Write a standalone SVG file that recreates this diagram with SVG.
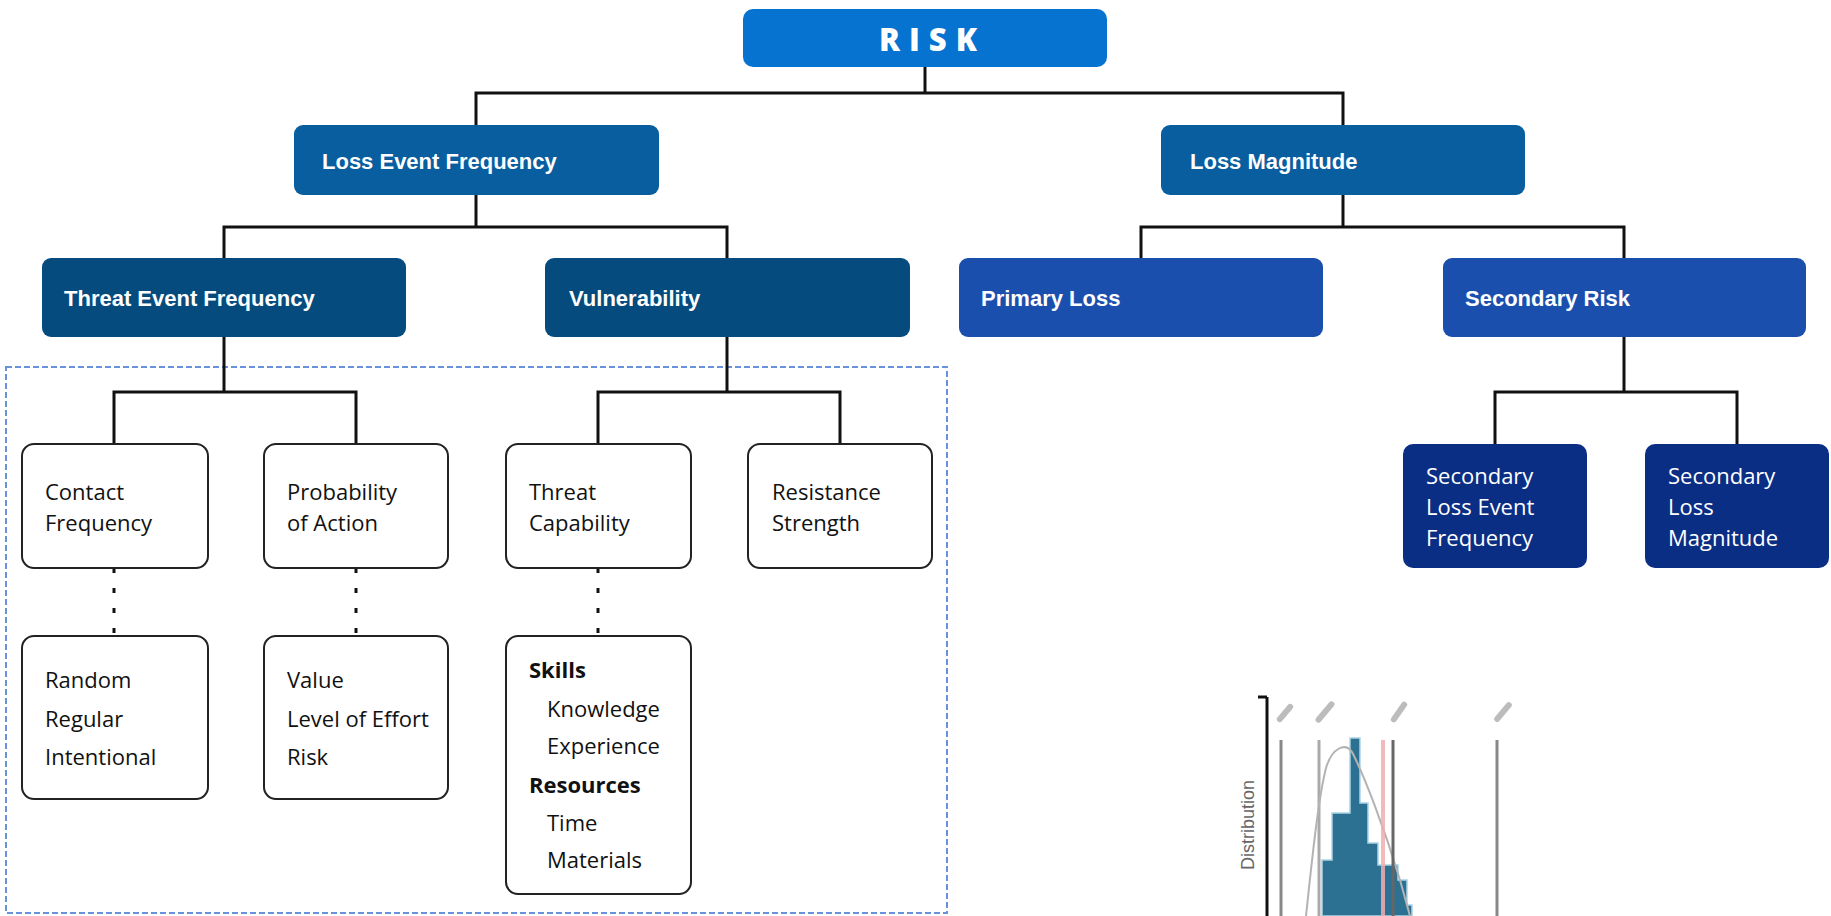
<svg xmlns="http://www.w3.org/2000/svg" width="1831" height="916" viewBox="0 0 1831 916">
<style>
  .conn { fill: none; stroke: #111; stroke-width: 3; }
  .dots { fill: none; stroke: #111; stroke-width: 3; stroke-dasharray: 5 15; }
  .title { font-family: "Liberation Sans", Arial, sans-serif; font-weight: bold; font-size: 22px; fill: #fff; }
  .wbox { fill: #fff; stroke: #222; stroke-width: 2; }
  .wtxt { font-family: "Open Sans", "Noto Sans", sans-serif; font-size: 22px; fill: #111; }
  .btxt { font-family: "Open Sans", "Noto Sans", sans-serif; font-size: 22px; fill: #fff; }
  .bold { font-weight: bold; }
  .lvl1 { fill: #085e9e; }
  .lvl2 { fill: #064b7e; }
  .lvl2b { fill: #1b4fae; }
  .lvl3 { fill: #0b2e85; }
  .vline { stroke-width: 3; }
  .tag { fill: #a0a0a0; opacity: 0.7; }
</style>

<rect x="6" y="367" width="941" height="546" fill="none" stroke="#6a92dc" stroke-width="2" stroke-dasharray="6 3"/>

<g id="connectors">
  <polyline class="conn" points="925,67 925,93"/>
  <polyline class="conn" points="476,125 476,93 1343,93 1343,125"/>
  <polyline class="conn" points="476,195 476,227"/>
  <polyline class="conn" points="224,258 224,227 727,227 727,258"/>
  <polyline class="conn" points="1343,195 1343,227"/>
  <polyline class="conn" points="1141,258 1141,227 1624,227 1624,258"/>
  <polyline class="conn" points="224,337 224,392"/>
  <polyline class="conn" points="114,444 114,392 356,392 356,444"/>
  <polyline class="conn" points="727,337 727,392"/>
  <polyline class="conn" points="598,444 598,392 840,392 840,444"/>
  <polyline class="conn" points="1624,337 1624,392"/>
  <polyline class="conn" points="1495,444 1495,392 1737,392 1737,444"/>
  <line class="dots" x1="114" y1="568" x2="114" y2="636"/>
  <line class="dots" x1="356" y1="568" x2="356" y2="636"/>
  <line class="dots" x1="598" y1="568" x2="598" y2="636"/>
</g>

<g id="risk">
  <rect x="743" y="9" width="364" height="58" rx="10" fill="#0673d1"/>
  <text x="879" y="51" font-family="'Open Sans', 'Noto Sans', sans-serif" font-weight="800" font-size="31" letter-spacing="9" fill="#fff">RISK</text>
</g>

<g id="loss-event-frequency">
  <rect class="lvl1" x="294" y="125" width="365" height="70" rx="9"/>
  <text class="title" x="322" y="169">Loss Event Frequency</text>
</g>
<g id="loss-magnitude">
  <rect class="lvl1" x="1161" y="125" width="364" height="70" rx="9"/>
  <text class="title" x="1190" y="169">Loss Magnitude</text>
</g>

<g id="threat-event-frequency">
  <rect class="lvl2" x="42" y="258" width="364" height="79" rx="9"/>
  <text class="title" x="64" y="306">Threat Event Frequency</text>
</g>
<g id="vulnerability">
  <rect class="lvl2" x="545" y="258" width="365" height="79" rx="9"/>
  <text class="title" x="569" y="306">Vulnerability</text>
</g>
<g id="primary-loss">
  <rect class="lvl2b" x="959" y="258" width="364" height="79" rx="9"/>
  <text class="title" x="981" y="306">Primary Loss</text>
</g>
<g id="secondary-risk">
  <rect class="lvl2b" x="1443" y="258" width="363" height="79" rx="9"/>
  <text class="title" x="1465" y="306">Secondary Risk</text>
</g>

<g id="contact-frequency">
  <rect class="wbox" x="22" y="444" width="186" height="124" rx="12"/>
  <text class="wtxt" x="45" y="500">Contact</text>
  <text class="wtxt" x="45" y="531">Frequency</text>
</g>
<g id="probability-of-action">
  <rect class="wbox" x="264" y="444" width="184" height="124" rx="12"/>
  <text class="wtxt" x="287" y="500">Probability</text>
  <text class="wtxt" x="287" y="531">of Action</text>
</g>
<g id="threat-capability">
  <rect class="wbox" x="506" y="444" width="185" height="124" rx="12"/>
  <text class="wtxt" x="529" y="500">Threat</text>
  <text class="wtxt" x="529" y="531">Capability</text>
</g>
<g id="resistance-strength">
  <rect class="wbox" x="748" y="444" width="184" height="124" rx="12"/>
  <text class="wtxt" x="772" y="500">Resistance</text>
  <text class="wtxt" x="772" y="531">Strength</text>
</g>

<g id="contact-types">
  <rect class="wbox" x="22" y="636" width="186" height="163" rx="12"/>
  <text class="wtxt" x="45" y="688">Random</text>
  <text class="wtxt" x="45" y="727">Regular</text>
  <text class="wtxt" x="45" y="765">Intentional</text>
</g>
<g id="action-factors">
  <rect class="wbox" x="264" y="636" width="184" height="163" rx="12"/>
  <text class="wtxt" x="287" y="688">Value</text>
  <text class="wtxt" x="287" y="727">Level of Effort</text>
  <text class="wtxt" x="287" y="765">Risk</text>
</g>
<g id="capability-factors">
  <rect class="wbox" x="506" y="636" width="185" height="258" rx="12"/>
  <text class="wtxt bold" x="529" y="678">Skills</text>
  <text class="wtxt" x="547" y="717">Knowledge</text>
  <text class="wtxt" x="547" y="754">Experience</text>
  <text class="wtxt bold" x="529" y="793">Resources</text>
  <text class="wtxt" x="547" y="831">Time</text>
  <text class="wtxt" x="547" y="868">Materials</text>
</g>

<g id="secondary-lef">
  <rect class="lvl3" x="1403" y="444" width="184" height="124" rx="10"/>
  <text class="btxt" x="1426" y="484">Secondary</text>
  <text class="btxt" x="1426" y="515">Loss Event</text>
  <text class="btxt" x="1426" y="546">Frequency</text>
</g>
<g id="secondary-lm">
  <rect class="lvl3" x="1645" y="444" width="184" height="124" rx="10"/>
  <text class="btxt" x="1668" y="484">Secondary</text>
  <text class="btxt" x="1668" y="515">Loss</text>
  <text class="btxt" x="1668" y="546">Magnitude</text>
</g>

<g id="chart">
  <line x1="1267" y1="697" x2="1267" y2="916" stroke="#111" stroke-width="3"/>
  <line x1="1258" y1="697" x2="1267" y2="697" stroke="#111" stroke-width="3"/>
  <text transform="translate(1254,780) rotate(-90)" text-anchor="end" font-family="'Liberation Sans', Arial, sans-serif" font-size="18" fill="#666">Distribution</text>
  <line x1="1281" y1="740" x2="1281" y2="916" stroke="#888" class="vline"/>
  <line x1="1319" y1="740" x2="1319" y2="916" stroke="#aaa" class="vline"/>
  <line x1="1497" y1="740" x2="1497" y2="916" stroke="#888" class="vline"/>
  <path d="M1322,916 V860 H1332 V813 H1350 V738 H1360 V803 H1368 V843 H1378 V865 H1398 V880 H1407 V905 H1412 V916 Z" fill="#2d7192" stroke="#a9d3e6" stroke-width="1.5"/>
  <path d="M1306,916 C1312,860 1318,800 1326,768 C1332,748 1345,742 1352,752 C1364,775 1385,830 1400,880 L1410,916" fill="none" stroke="#b3b3b3" stroke-width="2"/>
  <line x1="1383" y1="740" x2="1383" y2="916" stroke="#f0aeae" stroke-width="4" opacity="0.85"/>
  <line x1="1393" y1="740" x2="1393" y2="916" stroke="#666" class="vline"/>
  <rect class="tag" x="-3" y="-11" width="6" height="22" rx="3" transform="translate(1285,713) rotate(40)"/>
  <rect class="tag" x="-3" y="-13" width="6" height="26" rx="3" transform="translate(1325,712) rotate(40)"/>
  <rect class="tag" x="-3" y="-12" width="6" height="24" rx="3" transform="translate(1399,712) rotate(35)"/>
  <rect class="tag" x="-3" y="-12" width="6" height="24" rx="3" transform="translate(1503,712) rotate(40)"/>
</g>
</svg>
